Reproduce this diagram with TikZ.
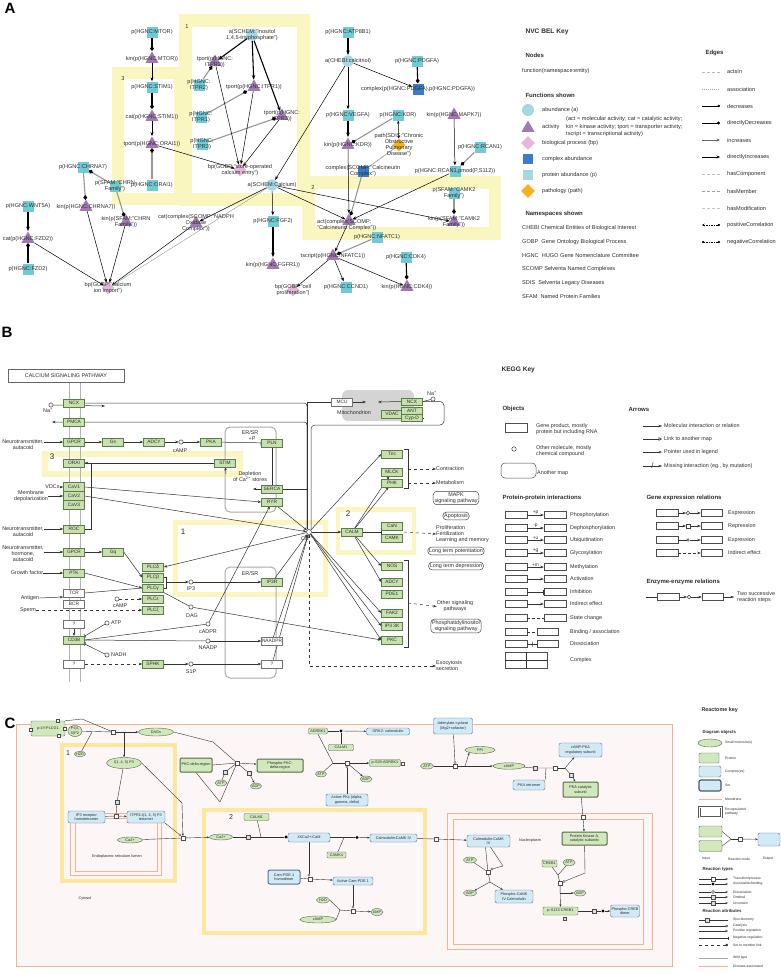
\documentclass[tikz,border=0pt]{standalone}
\usepackage{fontspec}
\setmainfont{Liberation Sans}
\usetikzlibrary{shapes.geometric,arrows.meta,calc}
\definecolor{txt}{RGB}{45,45,45}
\definecolor{yelA}{RGB}{250,246,192}
\definecolor{yelC}{RGB}{251,231,158}
\definecolor{cyn}{RGB}{112,202,216}
\definecolor{cyl}{RGB}{166,216,228}
\definecolor{pur}{RGB}{163,120,183}
\definecolor{pnk}{RGB}{232,182,218}
\definecolor{dbl}{RGB}{58,124,198}
\definecolor{org}{RGB}{246,178,26}
\definecolor{kgf}{RGB}{199,224,174}
\definecolor{kgd}{RGB}{88,128,70}
\definecolor{mito}{RGB}{212,212,212}
\definecolor{rgf}{RGB}{209,231,188}
\definecolor{rgd}{RGB}{85,105,75}
\definecolor{rbf}{RGB}{210,233,246}
\definecolor{rbd}{RGB}{85,115,145}
\definecolor{cyto}{RGB}{253,246,246}
\definecolor{memb}{RGB}{243,178,150}
\definecolor{gline}{RGB}{150,150,150}
\pgfdeclarelayer{back}
\pgfdeclarelayer{edges}
\pgfsetlayers{back,edges,main}
\newcommand\fA{\fontsize{5.6}{6.1}\selectfont}
\newcommand\fB{\fontsize{5.4}{6}\selectfont}
\newcommand\fBs{\fontsize{4.8}{5.2}\selectfont}
\newcommand\fC{\fontsize{3.8}{4.3}\selectfont}
\newcommand\fCk{\fontsize{3.4}{4}\selectfont}
\newcommand\fT{\fontsize{6.6}{7.5}\selectfont\bfseries}
\newcommand\fS{\fontsize{6}{7}\selectfont\bfseries}
\newcommand\fSc{\fontsize{4.3}{5}\selectfont\bfseries}
\newcommand\fP{\fontsize{15}{15}\selectfont\bfseries}
\newcommand\An[4]{\node[#1] (#2) at (#3) {}; \node[atx] (#2t) at (#2) {#4};}
\tikzset{
 atx/.style={font=\fA,align=center,inner sep=0,text=txt},
 ltx/.style={font=\fA,inner sep=0,text=txt,anchor=west},
 psq/.style={rectangle,fill=cyn,minimum size=11,inner sep=0},
 abc/.style={circle,fill=cyl,minimum size=11.5,inner sep=0},
 act/.style={regular polygon,regular polygon sides=3,fill=pur,minimum size=15,inner sep=0},
 bpd/.style={diamond,fill=pnk,minimum size=13,inner sep=0},
 cpx/.style={rectangle,fill=dbl,minimum size=11,inner sep=0},
 pth/.style={diamond,fill=org,minimum size=13,inner sep=0},
 ar/.style={-{Stealth[length=4,width=3]},line width=0.5,black},
 art/.style={-{Stealth[length=4.5,width=3.5]},line width=1.1,black},
 dm/.style={-{Diamond[length=5,width=4,color=black]},line width=1.1,gline},
 dmk/.style={-{Diamond[length=5,width=4]},line width=1.1,black},
 yfr/.style={draw=yelA,line width=#1},
 kg/.style={draw=kgd,fill=kgf,minimum width=21,minimum height=7.5,inner sep=0,font=\fBs,text=txt,line width=0.5},
 kw/.style={kg,fill=white,draw=black!55},
 kc/.style={circle,draw=black!75,fill=white,minimum size=4.2,inner sep=0,line width=0.5},
 km/.style={draw=black!75,rounded corners=3.5,align=center,font=\fB,text=txt,inner sep=1.3,line width=0.5},
 btx/.style={font=\fB,text=txt,inner sep=0,align=center},
 kl/.style={line width=0.5,black!80},
 ka/.style={kl,-{Stealth[length=3.5,width=2.6]}},
 kbx/.style={draw=black!70,minimum width=22,minimum height=7,inner sep=0,line width=0.5},
 rg/.style={draw=rgd,fill=rgf,rounded corners=1.2,inner sep=0.5,font=\fC,text=txt,align=center,line width=0.4},
 rb/.style={draw=rbd,fill=rbf,rounded corners=2,inner sep=0.5,font=\fC,text=txt,align=center,line width=0.4},
 re/.style={ellipse,draw=rgd,fill=rgf,inner sep=0,font=\fC,text=txt,align=center,line width=0.4},
 rn/.style={rectangle,draw=black!70,fill=white,minimum size=3.6,inner sep=0,line width=0.4},
 rs/.style={rn,fill=gray!25},
 rdot/.style={circle,fill=black,minimum size=3.2,inner sep=0},
 rc/.style={circle,draw=black!70,fill=white,minimum size=2.2,inner sep=0,line width=0.4},
 rl/.style={line width=0.4,black!80},
 ra/.style={rl,-{Stealth[length=2.6,width=2]}},
 ctx/.style={font=\fC,text=txt,inner sep=0,align=center},
 rkt/.style={font=\fCk,text=txt,inner sep=0,anchor=west},
}
\begin{document}
\begin{tikzpicture}[x=1pt,y=-1pt]
\useasboundingbox (0,0) rectangle (780,977);
\begin{pgfonlayer}{back}
\fill[white] (0,0) rectangle (780,977);
\draw[yfr=13] (185.5,20.5) rectangle (303.5,199);
\draw[yfr=12] (117.5,72.5) rectangle (180,199);
\draw[yfr=12.5] (308.5,182.5) rectangle (495,233.5);
\draw[yfr=6] (45,453.5) rectangle (239.5,474);
\draw[yfr=5] (175.5,522.5) rectangle (325,594.5);
\draw[yfr=4.5] (338,509.5) rectangle (414,552.5);
\draw[gray!60,line width=1] (69,382) -- (69,682);
\draw[gray!60,line width=1] (80,382) -- (80,682);
\draw[gray!65,line width=1,rounded corners=5] (225,427) rectangle (276,512);
\draw[gray!65,line width=1,rounded corners=5] (225,567) rectangle (276,678);
\fill[mito,rounded corners=6] (342,390) rectangle (414,421);
\draw[memb,fill=cyto,line width=0.8] (16,724) rectangle (672,966);
\draw[draw=yelC,line width=4] (62,745) rectangle (175,881);
\draw[draw=yelC,line width=4] (204,810) rectangle (425,933);
\draw[memb,line width=0.6] (70,813) rectangle (161,875);
\draw[memb,line width=0.6] (75,818) rectangle (157,871);
\draw[memb,line width=0.6] (447,813) rectangle (652,949);
\draw[memb,line width=0.6] (453,819) rectangle (643,944);
\end{pgfonlayer}
% ================= PANEL A =================
\node[font=\fP,text=black] (lA) at (10,8) {A};
\node[atx] (fr1) at (187,27) {1};
\node[atx] (fr3) at (123,79) {3};
\node[atx] (fr2) at (313,188) {2};
\An{psq}{mtor}{152,32}{p(HGNC:MTOR)}
\An{act}{mtork}{152,59}{kin(p(HGNC:MTOR))}
\An{psq}{stim}{152,87}{p(HGNC:STIM1)}
\An{act}{stimc}{152,117}{cat(p(HGNC:STIM1))}
\An{act}{oraik}{152,144}{tport(p(HGNC:ORAI1))}
\An{psq}{oraip}{152,185}{p(HGNC:ORAI1)}
\An{psq}{chrna}{83,167}{p(HGNC:CHRNA7)}
\An{act}{chrnak}{86,207}{kin(p(HGNC:CHRNA7))}
\An{psq}{chrnf}{115,186}{p(SFAM:"CHRN\\Family")}
\An{act}{chrnfk}{126,222}{kin(p(SFAM:"CHRN\\Family"))}
\An{psq}{wnt}{28,206}{p(HGNC:WNT5A)}
\An{act}{fzdc}{28,239}{cat(p(HGNC:FZD2))}
\An{psq}{fzd}{28,269}{p(HGNC:FZD2)}
\An{bpd}{caimp}{108,288}{bp(GOBP:"calcium\\ion import")}
\An{act}{nadph}{196,223}{cat(complex(SCOMP:"NADPH\\Oxidase\\Complex"))}
\An{abc}{ip3a}{252,35}{a(SCHEM:"Inositol\\1,4,5-trisphosphate")}
\An{act}{itpr2k}{215,62}{tport(p(HGNC:\\ITPR2))}
\An{psq}{itpr2}{199,85}{p(HGNC:\\ITPR2)}
\An{act}{itpr1k}{254,87}{tport(p(HGNC:ITPR1))}
\An{psq}{itpr1}{201,117}{p(HGNC:\\ITPR1)}
\An{act}{itpr3k}{282,116}{tport(p(HGNC:\\ITPR3))}
\An{psq}{itpr3}{202,144}{p(HGNC:\\ITPR3)}
\An{bpd}{soce}{240,170}{bp(GOBP:"store-operated\\calcium entry")}
\An{abc}{calc}{272,185}{a(SCHEM:Calcium)}
\An{psq}{fgf2}{273,221}{p(HGNC:FGF2)}
\An{act}{fgfr1}{273,265}{kin(p(HGNC:FGFR1))}
\An{bpd}{prolif}{293,290}{bp(GOBP:"cell\\proliferation")}
\An{psq}{atp8}{348,32}{p(HGNC:ATP8B1)}
\An{abc}{calcit}{348,61}{a(CHEBI:calcitriol)}
\An{psq}{pdgfa}{417,61}{p(HGNC:PDGFA)}
\An{cpx}{pdgfc}{418,89}{complex(p(HGNC:PDGFA),p(HGNC:PDGFA))}
\An{psq}{vegfa}{348,115}{p(HGNC:VEGFA)}
\An{psq}{kdr}{398,115}{p(HGNC:KDR)}
\An{act}{mapk7}{454,115}{kin(p(HGNC:MAPK7))}
\An{act}{kdrk}{348,145}{kin(p(HGNC:KDR))}
\An{pth}{copd}{399,145}{path(SDIS:"Chronic\\Obstructive\\Pulmonary\\Disease")}
\An{psq}{rcan}{480,147}{p(HGNC:RCAN1)}
\An{cpx}{calcn}{363,171}{complex(SCOMP:"Calcineurin\\Complex")}
\An{psq}{rcanp}{455,171}{p(HGNC:RCAN1,pmod(P,S112))}
\An{psq}{camk2}{454,193}{p(SFAM:"CAMK2\\Family")}
\An{act}{camk2k}{454,222}{kin(p(SFAM:"CAMK2\\Family"))}
\node[act] (calcna) at (349,221) {};
\node[atx,align=left,anchor=west] (calcnat) at (317,225) {act(complex(SCOMP:\\"Calcineurin Complex"))};
\An{psq}{nfat}{377,237}{p(HGNC:NFATC1)}
\An{act}{nfatk}{333,256}{tscript(p(HGNC:NFATC1))}
\An{psq}{cdk4}{406,257}{p(HGNC:CDK4)}
\An{psq}{ccnd1}{346,287}{p(HGNC:CCND1)}
\An{act}{cdk4k}{407,287}{kin(p(HGNC:CDK4))}
\begin{pgfonlayer}{edges}
\draw[dmk] (mtor) -- (mtork);
\draw[ar] (mtork) -- (stim);
\draw[dmk] (stim) -- (stimc);
\draw[ar] (stimc) -- (oraik);
\draw[dm] (oraip) -- (oraik);
\draw[ar] (oraik) -- (soce);
\draw[art] (ip3a) -- (itpr2k);
\draw[art] (ip3a) -- (itpr1k);
\draw[art] (ip3a) -- (itpr3k);
\draw[dm] (itpr2) -- (itpr2k);
\draw[dm] (itpr1) -- (itpr1k);
\draw[dm] (itpr3) -- (itpr3k);
\draw[ar] (itpr2k) -- (soce);
\draw[ar] (itpr1k) -- (soce);
\draw[ar] (itpr3k) -- (soce);
\draw[ar] (calcit) -- (calc);
\draw[ar] (calc) -- (fgf2);
\draw[art] (fgf2) -- (fgfr1);
\draw[dm] (chrna) -- (chrnak);
\draw[dm] (chrnf) -- (chrna);
\draw[dm] (chrnf) -- (chrnfk);
\draw[ar] (chrnak) -- (caimp);
\draw[ar] (chrnfk) -- (caimp);
\draw[ar] (fzdc) -- (caimp);
\draw[ar] (nadph) -- (caimp);
\draw[ar] (calc) -- (nadph);
\draw[gline,line width=0.4] (calc) -- (caimp);
\draw[art] (wnt) -- (fzdc);
\draw[dmk] (fzd) -- (fzdc);
\draw[ar] (calc) -- (calcna);
\draw[ar] (calc) -- (camk2k);
\draw[art] (atp8) -- (calcit);
\draw[ar] (calcit) -- (pdgfc);
\draw[ar] (calcit) -- (vegfa);
\draw[dmk] (pdgfa) -- (pdgfc);
\draw[art] (vegfa) -- (kdrk);
\draw[dm] (kdr) -- (kdrk);
\draw[{Stealth[length=3,width=2.5]}-{Stealth[length=3,width=2.5]},line width=0.5] (kdr) -- (copd);
\draw[gline,line width=0.6] (copd) -- (calcn);
\draw[ar] (kdrk) -- (calcna);
\draw[dm] (calcn) -- (calcna);
\draw[ar] (mapk7) -- (rcanp);
\draw[dm] (rcan) -- (rcanp);
\draw[ar] (rcanp) -- (calcna);
\draw[dm] (camk2) -- (camk2k);
\draw[ar] (calcna) -- (nfatk);
\draw[dm] (nfat) -- (nfatk);
\draw[ar] (nfatk) -- (ccnd1);
\draw[ar] (nfatk) -- (cdk4k);
\draw[ar] (nfatk) -- (prolif);
\draw[dmk] (cdk4) -- (cdk4k);
\end{pgfonlayer}
% ----- BEL key
\node[font=\fT,anchor=west,text=txt] (belk) at (522,32) {NVC BEL Key};
\node[font=\fS,anchor=west,text=txt] (beln) at (522,55) {Nodes};
\node[ltx] (belf) at (522,71) {function(namespace:entity)};
\node[font=\fS,anchor=west,text=txt] (belfs) at (522,95) {Functions shown};
\node[abc,minimum size=12] (kf1) at (528,110) {};
\node[ltx] (kf1t) at (542,110) {abundance (a)};
\node[act,minimum size=15] (kf2) at (528,128) {};
\node[ltx] (kf2t) at (542,127) {activity};
\node[ltx,align=left,font=\fontsize{5.6}{7.5}\selectfont] (kf2d) at (566,127) {(act = molecular activity; cat = catalytic activity;\\kin = kinase activity; tport = transporter activity;\\tscript = transcriptional activity)};
\node[bpd,minimum size=14] (kf3) at (528,143) {};
\node[ltx] (kf3t) at (542,143) {biological process (bp)};
\node[cpx,minimum size=10] (kf4) at (528,159) {};
\node[ltx] (kf4t) at (542,159) {complex abundance};
\node[psq,fill=cyl,minimum size=10] (kf5) at (528,175) {};
\node[ltx] (kf5t) at (542,175) {protein abundance (p)};
\node[pth,minimum size=14] (kf6) at (528,191) {};
\node[ltx] (kf6t) at (542,191) {pathology (path)};
\node[font=\fS,anchor=west,text=txt] (belns) at (522,214) {Namespaces shown};
\node[ltx] (ns1) at (522,228) {CHEBI Chemical Entities of Biological Interest};
\node[ltx] (ns2) at (522,242) {GOBP\ \ Gene Ontology Biological Process};
\node[ltx] (ns3) at (522,255) {HGNC\ \ HUGO Gene Nomenclature Committee};
\node[ltx] (ns4) at (522,269) {SCOMP Selventa Named Complexes};
\node[ltx] (ns5) at (522,283) {SDIS\ \ Selventa Legacy Diseases};
\node[ltx] (ns6) at (522,296) {SFAM\ \ Named Protein Families};
\node[font=\fS,anchor=west,text=txt] (bele) at (702,53) {Edges};
\foreach \y [count=\i] in {72,89,106,123,140,157,174,191,208,225,242}{
 \coordinate (ea\i) at (702,\y); \coordinate (eb\i) at (720,\y);}
\draw[gray!55,dash pattern=on 3pt off 2pt,line width=0.6] (ea1) -- (eb1);
\draw[gray!70,dash pattern=on 1pt off 1pt,line width=0.6] (ea2) -- (eb2);
\draw[black,line width=0.6,-{Circle[length=2.5]}] (ea3) -- (eb3);
\draw[black,line width=1,-{Circle[length=3]}] (ea4) -- (eb4);
\draw[gray!80!black,line width=1,-{Stealth[length=3.5,width=3]}] (ea5) -- (eb5);
\draw[black,line width=1,-{Stealth[length=3.5,width=3]}] (ea6) -- (eb6);
\draw[gray!50,dash pattern=on 3pt off 2pt,line width=0.6] (ea7) -- (eb7);
\draw[gray!75,dash pattern=on 3pt off 2pt,line width=0.6] (ea8) -- (eb8);
\draw[gray!45,dash pattern=on 3pt off 2pt,line width=0.6] (ea9) -- (eb9);
\draw[black,dash pattern=on 1.5pt off 1pt,line width=0.6,{Stealth[length=2.5,width=2.5]}-{Circle[length=2.2]}] (ea10) -- (eb10);
\draw[black,dash pattern=on 1.5pt off 1pt,line width=0.6,{Circle[length=2.2]}-{Circle[length=2.2]}] (ea11) -- (eb11);
\foreach \y/\t [count=\i] in {72/actsIn,89/association,106/decreases,123/directlyDecreases,140/increases,157/directlyIncreases,174/hasComponent,191/hasMember,208/hasModification,225/positiveCorrelation,242/negativeCorrelation}{
 \node[ltx] (et\i) at (727,\y) {\t};}
% ================= PANEL B =================
\node[font=\fP,text=black] (lB) at (7,332) {B};
\node[draw=black!60,minimum width=116,minimum height=13,font=\fB,text=txt,inner sep=0] (csp) at (66,375.5) {CALCIUM SIGNALING PATHWAY};
\node[font=\fontsize{8}{8}\selectfont,text=txt] (bf3) at (52,457) {3};
\node[font=\fontsize{8}{8}\selectfont,text=txt] (bf1) at (183,532) {1};
\node[font=\fontsize{8}{8}\selectfont,text=txt] (bf2) at (348,514) {2};
\node[kg] (ncx) at (74,403) {NCX};
\node[kg] (pmca) at (74,422) {PMCA};
\node[kg] (gpcra) at (74,442) {GPCR};
\node[kg] (orai) at (74,463) {ORAI};
\node[kg,minimum height=9] (cav1) at (74,487) {CaV1};
\node[kg,minimum height=9] (cav2) at (74,496) {CaV2};
\node[kg,minimum height=9] (cav3) at (74,505) {CaV3};
\node[kg] (roc) at (74,529) {ROC};
\node[kg] (gpcrb) at (74,552) {GPCR};
\node[kg] (ptk) at (74,573) {PTK};
\node[kw] (tcr) at (74,593) {TCR};
\node[kw] (bcr) at (74,604) {BCR};
\node[kw] (qa) at (74,624) {?};
\node[kg] (cd38) at (74,640) {CD38};
\node[kw] (qb) at (74,664) {?};
\node[kg] (gs) at (113,442) {Gs};
\node[kg] (adcya) at (154,442) {ADCY};
\node[kc] (campa) at (181,442) {};
\node[btx] (campat) at (180,451) {cAMP};
\node[kg] (pka) at (211,442) {PKA};
\node[kg] (stim) at (225,463) {STIM};
\node[kg] (gq) at (113,552) {Gq};
\node[kg,minimum height=8.5] (plcd) at (153,567) {PLCδ};
\node[kg,minimum height=8.5] (plcb) at (153,577.5) {PLCβ};
\node[kg,minimum height=8.5] (plcg) at (153,588) {PLCγ};
\node[kg,minimum height=8.5] (plce) at (153,599) {PLCε};
\node[kg,minimum height=8.5] (plcz) at (153,610) {PLCζ};
\node[kc] (campb) at (117,599) {};
\node[btx] (campbt) at (120,605.5) {cAMP};
\node[kc] (ip3) at (191,582) {};
\node[btx] (ip3t) at (191,588.5) {IP3};
\node[kc] (dag) at (191,607) {};
\node[btx] (dagt) at (192,616) {DAG};
\node[kc] (cadpr) at (208,624) {};
\node[btx] (cadprt) at (208,632) {cADPR};
\node[kc] (naadp) at (208,641) {};
\node[btx] (naadpt) at (208,648) {NAADP};
\node[kc] (atpb) at (107,623) {};
\node[btx,anchor=west] (atpbt) at (111,623) {ATP};
\node[kc] (nadh) at (107,655) {};
\node[btx,anchor=west] (nadht) at (111,655) {NADH};
\node[kg] (sphk) at (153,664) {SPHK};
\node[kc] (s1p) at (191,664) {};
\node[btx] (s1pt) at (191,672) {S1P};
\node[btx] (ersr1) at (250,433) {ER/SR};
\node[btx] (plusp) at (252,438.5) {+P};
\node[kg] (pln) at (272,443) {PLN};
\node[btx] (depl) at (250,477) {Depletion\\of Ca\textsuperscript{2+} stores};
\node[kg] (serca) at (272,489) {SERCA};
\node[kg] (ryr) at (272,502) {RYR};
\node[btx] (ersr2) at (250,574) {ER/SR};
\node[kg] (ip3r) at (272,582) {IP3R};
\node[kw] (naadpr) at (272,641) {NAADPR};
\node[kw] (qc) at (272,664) {?};
\node[kc,minimum size=5] (ca) at (309,532) {};
\node[btx] (cat) at (307,538.5) {Ca\textsuperscript{2+}};
\node[kw] (mcu) at (342,402) {MCU};
\node[btx] (mitot) at (354,413) {Mitochondrion};
\node[kg] (ncxb) at (412,401.5) {NCX};
\node[kc] (nab) at (433,399) {};
\node[btx] (nabt) at (432,393.5) {Na\textsuperscript{+}};
\node[kg,minimum height=8.5] (vdac) at (392,414) {VDAC};
\node[kg,minimum height=7] (ant) at (412,410.5) {ANT};
\node[kg,minimum height=7] (cypd) at (412,418) {Cyp-D};
\node[kc] (naa) at (51,405) {};
\node[btx] (naat) at (48,410.5) {Na\textsuperscript{+}};
\node[kg] (tnc) at (392,454) {Tnc};
\node[kg] (mlck) at (392,472) {MLCK};
\node[kg] (phk) at (392,483) {PHK};
\node[kg] (calm) at (352,532) {CALM};
\node[kg] (can) at (392,526) {CaN};
\node[kg] (camk) at (392,538) {CAMK};
\node[kg] (nos) at (392,566) {NOS};
\node[kg] (adcyb) at (392,582) {ADCY};
\node[kg] (pde1) at (392,594) {PDE1};
\node[kg] (fak2) at (392,613) {FAK2};
\node[kg] (ipk) at (392,626) {IP3 3K};
\node[kg] (pkc) at (392,640) {PKC};
\node[btx] (nt1) at (23,445) {Neurotransmitter,\\autacoid};
\node[btx] (vdcs) at (52.5,487) {VDCs};
\node[btx] (membd) at (31,496.5) {Membrane\\depolarization};
\node[btx] (nt2) at (23,532) {Neurotransmitter,\\autacoid};
\node[btx] (nt3) at (23,554) {Neurotransmitter,\\hormone,\\autacoid};
\node[btx] (gf) at (27,573) {Growth factor};
\node[btx] (antig) at (30,598) {Antigen};
\node[btx] (sperm) at (28,610) {Sperm};
\node[btx,anchor=west] (contr) at (436,469) {Contraction};
\node[btx,anchor=west] (metab) at (436,483) {Metabolism};
\node[km] (mapk) at (456,498) {MAPK\\signaling pathway};
\node[km] (apop) at (456,516) {Apoptosis};
\node[btx,anchor=west,align=left,font=\fontsize{5.4}{5.6}\selectfont] (prolb) at (436,534) {Proliferation\\Fertilization\\Learning and memory};
\node[km] (ltp) at (456,551) {Long term potentiation};
\node[km] (ltd) at (456,566) {Long term depression};
\node[btx] (other) at (455,606.5) {Other signaling\\pathways};
\node[km] (pisp) at (456,626) {Phosphatidylinositol\\signaling pathway};
\node[btx,anchor=west,align=left] (exo) at (436,666) {Exocytosis\\secretion};
\coordinate (pmcaout) at (52,422);
\coordinate (mcuin) at (366,402);
\coordinate (ncxout) at (378,402);
\coordinate (mitr) at (444,425);
\coordinate (naain) at (105,406);
\coordinate (deplc) at (226,474);
\coordinate (sercaout) at (253,489);
\coordinate (brt) at (91,463);
\coordinate (brb) at (91,529);
\coordinate (plcbr) at (166.5,582);
\coordinate (cj) at (381.5,532);
\coordinate (cjr) at (404,532);
\coordinate (bt1) at (404,449);
\coordinate (bb1) at (404,488);
\coordinate (bk1) at (408,469);
\coordinate (bk2) at (408,483);
\coordinate (bt2) at (404,560);
\coordinate (bb2) at (404,647);
\coordinate (bk3) at (408,603);
\coordinate (antr) at (423,411);
\coordinate (cypr) at (423,418);
\begin{pgfonlayer}{edges}
\draw[kl,rounded corners=3] ([xshift=-2]ca.north) |- (ncx.east);
\draw[ka,rounded corners=3] ([xshift=-2]ca.north) |- (pmcaout);
\draw[kl] ([xshift=-2]ca.north) |- (mcu.west);
\draw[ka] (mcu.east) -- (mcuin);
\draw[ka] (ncxb.west) -- (ncxout);
\draw[kl] (nab) -- (ncxb.east);
\draw[kl,rounded corners=4] ([xshift=2]ca.north) |- (mitr) |- (ncxb.east);
\draw[kl] (ant.east) -- (antr);
\draw[kl] (cypd.east) -- (cypr);
\draw[ka] (naa) -- (naain);
\draw[ka] (gpcra) -- (gs);
\draw[ka] (gs) -- (adcya);
\draw[ka] (adcya) -- (campa);
\draw[ka] (campa) -- (pka);
\draw[kl,-{Bar[width=5]}] (pka) -- (pln);
\draw[ka] (stim) -- (orai);
\draw[ka] (deplc) -- (stim);
\draw[kl,-{Bar[width=5]}] (pln) -- (serca);
\draw[ka] (serca.west) -- (sercaout);
\draw[kl] ([xshift=-2]ca.north) |- (serca.east);
\draw[ka] (ryr) -- (ca);
\draw[ka] (ip3r) -- (ca);
\draw[ka] (naadpr) -- (ca);
\draw[ka] (qc) -- (ca);
\draw[ka] (cav1.east) -- (ryr.west);
\draw[ka] (cav2.east) -- (ca);
\draw[kl] (orai.east) -- (brt) -- (brb) -- (roc.east);
\draw[ka] (nt1.east |- gpcra) -- (gpcra);
\draw[ka] (vdcs.east) -- (cav1);
\draw[ka] (membd.east |- cav2) -- (cav2);
\draw[ka] (nt2.east |- roc) -- (roc);
\draw[ka] (nt3.east |- gpcrb) -- (gpcrb);
\draw[ka] (gf) -- (ptk);
\draw[ka] (antig.east) -- (tcr.south west);
\draw[ka,dashed] (sperm.east) -- (plcz);
\draw[ka] (gpcrb) -- (gq);
\draw[ka] (gq.east) -- (plcb.west);
\draw[ka] (ptk.east) -- (plcg.west);
\draw[kl] (tcr.east) -- (plcg.west);
\draw[ka,dashed] (campb) -- (plce);
\draw[ka] (ca) -- (plcd.east);
\draw[kl] (plcb.east) -| (plcbr) |- (plcg.east);
\draw[ka] (plcbr) -- (ip3);
\draw[ka] (ip3) -- (ip3r);
\draw[kl] (plcg.south east) -- (dag);
\draw[ka] (dag) -- (pkc.west);
\draw[ka] (cadpr) -- (ryr);
\draw[kl] (cd38.east) -- (cadpr);
\draw[kl] (cd38.east) -- (naadp);
\draw[ka] (naadp) -- (naadpr);
\draw[kl,-{Bar[width=4]}] (atpb) -- (cd38.north east);
\draw[kl,-{Bar[width=4]}] (nadh) -- (cd38.south east);
\draw[ka] (qa) -- (cd38);
\draw[ka,dashed] (qb) -- (sphk);
\draw[ka] (sphk) -- (s1p);
\draw[ka] (s1p) -- (qc);
\draw[ka] (ca) -- (calm);
\draw[kl] (calm.east) -- (cj);
\draw[kl] (can.west) -- (camk.west);
\draw[ka] (calm) -- (mlck);
\draw[ka] (calm) -- (phk);
\draw[ka] (calm) -- (nos.west);
\draw[ka] (calm) -- (adcyb.west);
\draw[ka] (ca) -- (tnc.west);
\draw[ka] (ca) -- (fak2.west);
\draw[ka] (ca) -- (ipk.west);
\draw[ka] (ca) -- (pkc.west);
\draw[ka,dashed] (ca.south) |- (exo.west);
\draw[kl] (bt1) -- ++(4,0) |- (bb1);
\draw[ka,dashed] (bk1) -- (contr.west);
\draw[ka,dashed] (bk2) -- (metab.west);
\draw[kl] (bt2) -- ++(4,0) |- (bb2);
\draw[ka,dashed] (bk3) -- (other.west);
\draw[ka,dashed] (cjr) -- (prolb.west);
\end{pgfonlayer}
% ----- KEGG key
\node[font=\fT,anchor=west,text=txt] (kk) at (498,370) {KEGG Key};
\node[font=\fS,anchor=west,text=txt] (kob) at (499,409) {Objects};
\node[kbx,minimum height=9] (ko1) at (516,427.5) {};
\node[btx,anchor=west,align=left] (ko1t) at (536,429.5) {Gene product, mostly\\protein but including RNA};
\node[kc,minimum size=4.5] (ko2) at (514,449) {};
\node[btx,anchor=west,align=left] (ko2t) at (536,451.5) {Other molecule, mostly\\chemical compound};
\node[draw=black!70,rounded corners=4,minimum width=35,minimum height=15,line width=0.5] (ko3) at (518.5,470.5) {};
\node[btx,anchor=west] (ko3t) at (537,473) {Another map};
\node[font=\fS,anchor=west,text=txt] (karw) at (625,409) {Arrows};
\foreach \y [count=\i] in {426,439,452,466}{\coordinate (kxa\i) at (643,\y); \coordinate (kxb\i) at (662,\y);}
\draw[ka] (kxa1) -- (kxb1);
\draw[kl,-{Triangle[open,length=3.5,width=3.5]}] (kxa2) -- (kxb2);
\draw[kl,-{Stealth[length=3,width=2]}] (kxa3) -- (kxb3);
\draw[ka] (kxa4) -- (kxb4) node[midway,font=\fontsize{8}{8}\selectfont,inner sep=0] (kslash) {/};
\node[btx,anchor=west] (kxt1) at (664,426) {Molecular interaction or relation};
\node[btx,anchor=west] (kxt2) at (664,439) {Link to another map};
\node[btx,anchor=west] (kxt3) at (664,452) {Pointer used in legend};
\node[btx,anchor=west] (kxt4) at (664,466) {Missing interaction (eg., by mutation)};
\node[font=\fS,anchor=west,text=txt] (kppi) at (499,498) {Protein-protein interactions};
\foreach \y/\l/\t [count=\i] in {515/+p/Phosphorylation,528/-p/Dephosphorylation,540/+u/Ubiquitination,553/+g/Glycosylation,567/+m/Methylation}{
 \node[kbx] (pa\i) at (516,\y) {}; \node[kbx] (pb\i) at (555,\y) {};
 \draw[ka] (pa\i) -- (pb\i) node[midway,above=0.3pt,font=\fBs,inner sep=0.3,text=txt] (pl\i) {\l};
 \node[btx,anchor=west] (pt\i) at (570,\y) {\t};}
\foreach \y/\t [count=\i] in {579/Activation,592/Inhibition,604/Indirect effect,618/State change}{
 \node[kbx] (qa\i) at (516,\y) {}; \node[kbx] (qb\i) at (555,\y) {};
 \node[btx,anchor=west] (qt\i) at (570,\y) {\t};}
\draw[ka] (qa1) -- (qb1);
\draw[kl,-{Bar[width=5]}] (qa2) -- (qb2);
\draw[ka] (qa3) -- (qb3);
\draw[kl,dash pattern=on 3pt off 2pt] (qa4) -- (qb4);
\node[kbx] (qa5) at (516,632) {}; \node[kbx,minimum width=21] (qb5) at (547.5,632) {};
\node[btx,anchor=west] (qt5) at (570,632) {Binding / association};
\draw[kl,dash pattern=on 3pt off 2pt] (qa5) -- (qb5);
\node[kbx] (qa6) at (516,644) {}; \node[kbx,minimum width=21] (qb6) at (547.5,644) {};
\node[btx,anchor=west] (qt6) at (570,644) {Dissociation};
\draw[kl] (qa6) -- (qb6) node[midway,draw=black!80,minimum height=5,minimum width=0,inner sep=0,line width=0.5] (qm6) {};
\node[draw=black!70,minimum width=42,minimum height=16,inner sep=0,line width=0.5] (kcx) at (526,660) {};
\draw[kl] (kcx.north) -- (kcx.south);
\draw[kl] (kcx.west) -- (kcx.east);
\node[btx,anchor=west] (kcxt) at (570,660) {Complex};
\node[font=\fS,anchor=west,text=txt] (kge) at (643,498) {Gene expression relations};
\foreach \y/\t [count=\i] in {513/Expression,526/Repression,540/Expression,553/Indirect effect}{
 \node[kbx] (ga\i) at (667,\y) {}; \node[kbx,minimum width=21] (gb\i) at (711.5,\y) {};
 \node[btx,anchor=west] (gt\i) at (728,\y) {\t};}
\node[kc,minimum size=3.5] (gc1) at (688,513) {};
\draw[ka] (ga1) -- (gc1); \draw[ka] (gc1) -- (gb1);
\node[draw=black!75,fill=white,minimum size=3.5,inner sep=0,line width=0.5] (gc2) at (688,526) {};
\draw[ka] (ga2) -- (gc2); \draw[ka] (gc2) -- (gb2);
\node[kc,minimum size=2.5] (gc3) at (688,540) {};
\draw[kl] (ga3) -- (gc3); \draw[ka] (gc3) -- (gb3);
\draw[ka,dash pattern=on 3pt off 2pt] (ga4) -- (gb4);
\node[font=\fS,anchor=west,text=txt] (kee) at (643,582) {Enzyme-enzyme relations};
\coordinate (ee0) at (646,597);
\node[kbx] (ee1) at (668.5,597) {};
\node[kc,minimum size=3.5] (eec) at (689,597) {};
\node[kbx,minimum width=21] (ee2) at (712.5,597) {};
\coordinate (ee3) at (734,597);
\draw[kl] (ee0) -- (ee1); \draw[ka] (ee1) -- (eec); \draw[ka] (eec) -- (ee2); \draw[ka] (ee2) -- (ee3);
\node[btx,anchor=west,align=left] (eet) at (737,597) {Two successive\\reaction steps};
% ================= PANEL C =================
\node[font=\fP,text=black] (lC) at (10,723) {C};
\node[font=\fontsize{7}{7}\selectfont,text=txt] (cf1) at (68,753) {1};
\node[font=\fontsize{7}{7}\selectfont,text=txt] (cf2) at (231,817) {2};
\node[ctx] (cytot) at (85,899) {Cytosol};
\node[ctx] (ert) at (117,857) {Endoplasmic reticulum lumen};
\node[ctx] (nucl) at (530,841) {Nucleoplasm};
\node[rg,minimum width=34,minimum height=15] (plcg1) at (48,728.5) {p-4Y-PLCG1};
\node[rn,minimum size=3] (m1) at (31,730) {};
\node[rn,minimum size=3] (m2) at (58,721) {};
\node[rn,minimum size=3] (m3) at (64.5,729) {};
\node[rn,minimum size=3] (m4) at (59,736) {};
\node[re,minimum width=14,minimum height=10] (pip2) at (75,731) {PI(4,\\5)P2};
\node[re,minimum width=11,minimum height=5.5] (h2oa) at (80,754) {H2O};
\node[rn] (rx1) at (113,732) {};
\node[re,minimum width=35,minimum height=8] (dags) at (156,732) {DAGs};
\node[re,minimum width=35,minimum height=11] (ip3c) at (124,763) {I(1, 4, 5) P3};
\node[rs] (st1) at (117,802) {};
\node[rb,minimum width=37,minimum height=12] (ip3rh) at (86.5,817) {IP3 receptor\\homotetramer};
\node[rn] (rx3) at (116,816) {};
\node[rb,minimum width=38,minimum height=12] (itpr1t) at (146,817) {ITPR1:I(1, 4, 5) P3\\tetramer};
\node[re,minimum width=25,minimum height=6] (caer) at (130,840) {Ca2+};
\node[rn] (rx4) at (183,838) {};
\node[rc] (rxc4) at (180,835) {};
\node[re,minimum width=23,minimum height=6] (cacy) at (221,837) {Ca2+};
\node[rg,line width=1,minimum width=32,minimum height=14] (pkcd) at (196,765) {PKC-delta:region};
\node[rn] (rx2) at (237,763) {};
\node[rs] (st2) at (225,772) {};
\node[re,minimum width=12,minimum height=6] (atpa) at (221,783) {ATP};
\node[rg,line width=1,minimum width=46,minimum height=13] (ppkcd) at (280,765.5) {Phospho-PKC-\\delta:region};
\node[rs] (st3) at (249,773) {};
\node[re,minimum width=11,minimum height=6] (adpa) at (256,786) {ADP};
\node[rg,minimum width=19,minimum height=6] (adrbk) at (318,731) {ADRBK1};
\node[rdot] (dot3) at (341,731) {};
\node[rb,minimum width=43,minimum height=7] (grk2) at (388,731.5) {GRK2: calmodulin};
\node[rg,minimum width=25,minimum height=6.5] (calm1a) at (341,747.5) {CALM1};
\node[re,minimum width=11,minimum height=6] (atpc) at (321,774) {ATP};
\node[rn] (rx8) at (347,763) {};
\node[rc] (rxc8) at (347,767) {};
\node[rg,minimum width=31,minimum height=7] (ps29) at (385,763) {p-S29-ADRBK1};
\node[rn,minimum size=3] (ps29m) at (403,764) {};
\node[re,minimum width=12,minimum height=6] (adpc) at (366,779) {ADP};
\node[rb,minimum width=42,minimum height=12] (apkc) at (347,800) {Active PKc (alpha,\\gamma, delta)};
\node[rb,minimum width=39,minimum height=16] (adcyc) at (453,726) {Adenylate cyclase\\(Mg2+cofactor)};
\node[re,minimum width=13,minimum height=6] (atpd) at (427,766) {ATP};
\node[rn] (rx9) at (455,766) {};
\node[rc] (rxc9) at (455,762.5) {};
\node[re,minimum width=30,minimum height=7] (ppi) at (480,750) {PPi};
\node[re,minimum width=32,minimum height=6.5] (campc) at (509,766) {cAMP};
\node[rs] (st5) at (535,768) {};
\node[rn] (rx10) at (555,768) {};
\node[rb,minimum width=32,minimum height=10] (pkat) at (529,785) {PKA tetramer};
\node[rb,minimum width=43,minimum height=14] (camppka) at (580.5,750) {cAMP:PKA\\regulatory subunit};
\node[rs] (st6) at (571,775) {};
\node[rg,line width=1,minimum width=35,minimum height=15] (pkacat) at (580.5,789.5) {PKA catalytic\\subunit};
\node[rn] (rx11) at (583,817) {};
\node[rg,line width=1,minimum width=45,minimum height=13] (pkan) at (584.5,838.5) {Protein Kinase A,\\catalytic subunits};
\node[rb,minimum width=43,minimum height=12] (camkn) at (488.5,841) {Calmodulin:CaMK\\IV};
\node[re,minimum width=13,minimum height=6] (atpe) at (470,860) {ATP};
\node[rn] (rx12) at (488,872) {};
\node[rc] (rxc12) at (492,869) {};
\node[re,minimum width=13,minimum height=6] (adpe) at (470,893) {ADP};
\node[rb,minimum width=38,minimum height=13] (pcamk) at (514,896.5) {Phospho-CaMK\\IV:Calmodulin};
\node[rg,minimum width=15,minimum height=7] (creb) at (549.5,863.5) {CREB1};
\node[re,minimum width=12,minimum height=6.5] (atpf) at (569,862.5) {ATP};
\node[rn] (rx13) at (560,883) {};
\node[rc] (rxc13) at (564,881.5) {};
\node[re,minimum width=12,minimum height=6] (adpf) at (580,893) {ADP};
\node[rg,minimum width=35,minimum height=8] (pcreb) at (560.5,911) {p-S133-CREB1};
\node[rs,minimum size=3] (pcrebm) at (565,918.5) {};
\node[rs] (st7) at (594,911) {};
\node[rdot] (dot4) at (603,911) {};
\node[rb,minimum width=29,minimum height=12] (pcrebd) at (625,911) {Phospho-CREB\\dimer};
\node[rg,minimum width=25,minimum height=7] (calm1b) at (256.5,817) {CALM1};
\node[rs] (st4) at (248,837) {};
\node[rdot] (dot1) at (286,837) {};
\node[rb,minimum width=42,minimum height=9] (cacam) at (309,837.5) {4XCa2+:CaM};
\node[rdot] (dot2) at (357,837.5) {};
\node[rb,minimum width=47,minimum height=8] (cmcamk) at (393.5,838) {Calmodulin:CaMK IV};
\node[rg,minimum width=19,minimum height=6] (camk4) at (336.5,855) {CAMK4};
\node[rn] (rx5) at (436,839) {};
\node[rb,line width=1,minimum width=32,minimum height=14] (campde) at (284,877) {Cam-PDE 1\\homodimer};
\node[rn] (rx6) at (310,879) {};
\node[rc] (rxc6) at (309,875) {};
\node[rb,minimum width=40,minimum height=8] (acpde) at (353,881) {Active Cam-PDE 1};
\node[re,minimum width=13,minimum height=6] (h2ob) at (323,900) {H2O};
\node[re,minimum width=36,minimum height=7] (campd) at (318,919.5) {cAMP};
\node[rn] (rx7) at (353,911) {};
\node[rc] (rxc7) at (353,907) {};
\node[re,minimum width=12,minimum height=7] (amp) at (377,912) {AMP};
\coordinate (c1) at (82,719);
\coordinate (c2) at (92,732);
\coordinate (c3) at (213,742);
\coordinate (c4) at (220,802);
\coordinate (c5) at (182,803);
\coordinate (c6) at (261,837);
\coordinate (c7) at (344,837.5);
\coordinate (c8) at (340,910);
\coordinate (c9) at (333,763);
\coordinate (c11) at (465,766);
\coordinate (c12) at (546,768);
\coordinate (c13) at (565,768);
\coordinate (c14) at (503,866);
\coordinate (c15) at (490,882);
\coordinate (c16) at (585,873);
\coordinate (c17) at (558,875);
\coordinate (c18) at (560,893);
\begin{pgfonlayer}{edges}
\draw[rl] (plcg1.north east) -- (c1) -- (rx1);
\draw[rl] (pip2) -- (rx1);
\draw[rl] (h2oa) -- (c2);
\draw[ra] (rx1) -- (dags);
\draw[ra] (rx1.east) -| (ip3c.north);
\draw[rl] (dags.east) -- (c3) -- (rx2);
\draw[rl] (pkcd.east) -- (rx2);
\draw[rl] (pkcd.south) -- (c4) -- (rx2);
\draw[rl] (atpa) -- (st2) -- (rx2);
\draw[ra] (rx2) -- (ppkcd);
\draw[rl] (rx2) -- (st3);
\draw[ra] (st3) -- (adpa);
\draw[rl] (ip3c) -- (st1) -- (rx3);
\draw[rl] (ip3rh) -- (rx3);
\draw[ra] (rx3) -- (itpr1t);
\draw[rl] (ip3c.east) -- (c5);
\draw[ra] (c5) -- (rx4);
\draw[rl] (itpr1t.south east) -- (rxc4);
\draw[rl] (caer) -- (rx4);
\draw[ra] (rx4) -- (cacy);
\draw[rl] (cacy) -- (st4) -- (dot1);
\draw[rl] (calm1b) -- (c6);
\draw[ra] (dot1) -- (cacam);
\draw[rl] (cacam) -- (dot2);
\draw[rl] (camk4) -- (c7);
\draw[ra] (dot2) -- (cmcamk);
\draw[rl] (cmcamk) -- (rx5);
\draw[ra] (rx5) -- (camkn);
\draw[rl] (cacam) -- (rxc6);
\draw[rl] (campde) -- (rx6);
\draw[ra] (rx6) -- (acpde);
\draw[rl] (acpde) -- (rxc7);
\draw[rl] (h2ob.east) -- (c8);
\draw[rl] (campd.east) -- (c8);
\draw[rl] (c8) -- (rx7);
\draw[ra] (rx7) -- (amp);
\draw[rl] (adrbk) -- (dot3);
\draw[rl] (calm1a) -- (dot3);
\draw[ra] (dot3) -- (grk2);
\draw[rl] (adrbk.south) -- (c9);
\draw[rl] (atpc) -- (c9);
\draw[rl] (c9) -- (rx8);
\draw[ra] (rx8) -- (ps29);
\draw[ra] (rx8) -- (adpc);
\draw[rl] (apkc) -- (rxc8);
\draw[rl] (adcyc) -- (rxc9);
\draw[rl] (atpd) -- (rx9);
\draw[ra] (rx9) -- (campc);
\draw[ra] (c11) -- (ppi.south west);
\draw[rl] (campc) -- (st5) -- (rx10);
\draw[rl] (pkat.north east) -- (c12);
\draw[rl] (rx10) -- (c13);
\draw[ra] (c13) -- (camppka);
\draw[rl] (c13) -- (st6);
\draw[ra] (st6) -- (pkacat);
\draw[rl] (pkacat) -- (rx11);
\draw[ra] (rx11) -- (pkan);
\draw[rl] ([xshift=-3]camkn.south) -- (rx12);
\draw[rl] ([xshift=2]camkn.south) -- (c14) -- (rxc12);
\draw[rl] (atpe) -- (rx12);
\draw[rl] (rx12) -- (c15);
\draw[ra] (c15) -- (adpe);
\draw[ra] (c15) -- (pcamk);
\draw[rl] (pkan) -- (c16) -- (rxc13);
\draw[rl] (creb) -- (c17);
\draw[rl] (atpf) -- (c17);
\draw[rl] (c17) -- (rx13);
\draw[ra] (rx13) -- (pcreb);
\draw[ra] (c18) -- (adpf);
\draw[rl] (pcreb) -- (st7) -- (dot4);
\draw[ra] (dot4) -- (pcrebd);
\end{pgfonlayer}
% ----- Reactome key
\node[font=\fontsize{5.4}{6}\selectfont\bfseries,anchor=west,text=txt] (rk) at (698,710) {Reactome key};
\node[font=\fSc,anchor=west,text=txt] (rk1) at (699,732) {Diagram objects};
\node[re,minimum width=24,minimum height=8] (rko1) at (710,743) {};
\node[rkt] (rkt1) at (725,743) {Small molecule(s)};
\node[rg,minimum width=20,minimum height=10] (rko2) at (709,758) {};
\node[rkt] (rkt2) at (725,758) {Protein};
\node[rb,minimum width=22,minimum height=11] (rko3) at (710,771.5) {};
\node[rkt] (rkt3) at (725,771.5) {Complex(es)};
\node[rb,line width=1.2,draw=rbd!80!black,minimum width=22,minimum height=11] (rko4) at (710,785.5) {};
\node[rkt] (rkt4) at (725,785.5) {Set};
\coordinate (rkm1) at (699,799); \coordinate (rkm2) at (722,799);
\draw[memb,line width=0.8] (rkm1) -- (rkm2);
\node[rkt] (rkt5) at (725,799) {Membrane};
\node[draw=gray!70!black,double=white,double distance=1,line width=0.8,fill=white,minimum width=22,minimum height=10,inner sep=0] (rko6) at (710.5,812) {};
\node[rkt,align=left] (rkt6) at (725,812) {Encapsulated\\pathway};
\node[rg,minimum width=23,minimum height=11] (rin1) at (710.5,831.5) {};
\node[rg,minimum width=23,minimum height=11] (rin2) at (710.5,846) {};
\coordinate (rj) at (731,839);
\node[rn] (rrn) at (740,839) {};
\node[rb,minimum width=22,minimum height=13] (rout) at (769,839.5) {};
\draw[rl] (rin1.east) -- (rj);
\draw[rl] (rin2.east) -- (rj);
\draw[rl] (rj) -- (rrn);
\draw[ra] (rrn) -- (rout);
\node[font=\fCk,text=txt,inner sep=0] (rli) at (706,859) {Input};
\node[font=\fCk,text=txt,inner sep=0] (rlr) at (739,859) {Reaction node};
\node[font=\fCk,text=txt,inner sep=0] (rlo) at (768,859) {Output};
\node[font=\fSc,anchor=west,text=txt] (rk2) at (699,869) {Reaction types};
\foreach \y [count=\i] in {879,884,892,897,903,920,926,931,938,945,958,966}{
 \coordinate (rka\i) at (699,\y); \coordinate (rkb\i) at (728,\y);}
\node[rn] (rs1) at (713,879) {};
\draw[rl] (rka1) -- (rs1); \draw[ra] (rs1) -- (rkb1);
\node[rdot] (rs2) at (713,884) {};
\draw[rl] (rka2) -- (rs2); \draw[ra] (rs2) -- (rkb2);
\node[rc,minimum size=3] (rs3) at (713,892) {};
\draw[rl] (rka3) -- (rs3); \draw[ra] (rs3) -- (rkb3);
\node[rs] (rs4) at (713,897) {};
\draw[rl] (rka4) -- (rs4); \draw[ra] (rs4) -- (rkb4);
\node[rs] (rs5) at (713,903) {};
\draw[rl] (rka5) -- (rs5); \draw[ra] (rs5) -- (rkb5);
\node[rkt] (rt1) at (733,879) {Transition/process};
\node[rkt] (rt2) at (733,884) {Association/binding};
\node[rkt] (rt3) at (733,892) {Dissociation};
\node[rkt] (rt4) at (733,897) {Omitted};
\node[rkt] (rt5) at (733,903) {Uncertain};
\node[font=\fSc,anchor=west,text=txt] (rk3) at (699,911) {Reaction attributes};
\node[rs] (rs6) at (707,920) {};
\draw[rl] (rka6) -- (rs6); \draw[rl] (rs6) -- (rkb6);
\draw[rl,-{Circle[open,length=2.5]}] (rka7) -- (rkb7);
\draw[rl,-{Triangle[open,length=2.5,width=2.5]}] (rka8) -- (rkb8);
\draw[rl,-{Bar[width=3]}] (rka9) -- (rkb9);
\draw[rl,dashed,-{Circle[length=2.5]}] (rka10) -- (rkb10);
\draw[gray!70,line width=0.6] (rka11) -- (rkb11);
\draw[memb,line width=0.8] (rka12) -- (rkb12);
\node[rkt] (rt6) at (733,920) {Stoichiometry};
\node[rkt] (rt7) at (733,926) {Catalysis};
\node[rkt] (rt8) at (733,931) {Positive regulation};
\node[rkt] (rt9) at (733,938) {Negative regulation};
\node[rkt] (rt10) at (733,945) {Set to member link};
\node[rkt] (rt11) at (733,958) {Wild type};
\node[rkt] (rt12) at (733,966) {Disease-associated};
\end{tikzpicture}
\end{document}
